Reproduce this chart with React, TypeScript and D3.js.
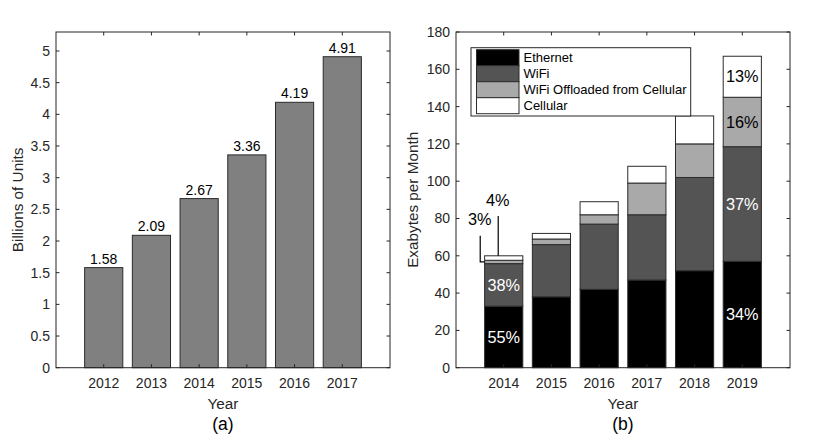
import React from 'react';
import * as d3 from 'd3';

// panel (a): devices
const yearsA = [2012, 2013, 2014, 2015, 2016, 2017];
const unitsA = [1.58, 2.09, 2.67, 3.36, 4.19, 4.91];
const yTicksA = d3.range(0, 5.01, 0.5);

// panel (b): traffic by access type
const yearsB = [2014, 2015, 2016, 2017, 2018, 2019];
const seriesNames = ['Ethernet', 'WiFi', 'WiFi Offloaded from Cellular', 'Cellular'];
const ethernet = [33, 38, 42, 47, 52, 57];
const wifi = [22.8, 28, 35, 35, 50, 61.5];
const offload = [1.8, 3, 5, 17, 18, 26.5];
const cellular = [2.4, 3, 7, 9, 15, 22];
const seriesColors = ['#000000', '#545454', '#a9a9a9', '#ffffff'];
const yTicksB = d3.range(0, 181, 20);
// percentage labels: [year index, series index, text]
const pctLabels: [number, number, string][] = [
  [0, 0, '55%'],
  [0, 1, '38%'],
  [5, 0, '34%'],
  [5, 1, '37%'],
  [5, 2, '16%'],
  [5, 3, '13%'],
];

const FONT = '"Liberation Sans", Arial, Helvetica, sans-serif';
const AX = '#262626';
const EDGE = '#2b2b2b';

const top = 32;
const bottom = 367.7;
const tickLen = 3.5;

function Frame({ left, right, x, y, xTicks, yTicks, yFmt, xLabel, yLabel, panel, yLabelX }: any) {
  return (
    <g>
      <rect x={left} y={top} width={right - left} height={bottom - top} fill="none" stroke={AX} strokeWidth={1} />
      {yTicks.map((t: number) => (
        <g key={'y' + t}>
          <line x1={left} x2={left + tickLen} y1={y(t)} y2={y(t)} stroke={AX} />
          <line x1={right} x2={right - tickLen} y1={y(t)} y2={y(t)} stroke={AX} />
          <text x={left - 6} y={y(t)} dy="0.35em" textAnchor="end" fontSize={14} fill={AX}>
            {yFmt(t)}
          </text>
        </g>
      ))}
      {xTicks.map((t: number) => (
        <g key={'x' + t}>
          <line x1={x(t)} x2={x(t)} y1={bottom} y2={bottom - tickLen} stroke={AX} />
          <line x1={x(t)} x2={x(t)} y1={top} y2={top + tickLen} stroke={AX} />
          <text x={x(t)} y={387.5} textAnchor="middle" fontSize={14} fill={AX}>
            {t}
          </text>
        </g>
      ))}
      <text x={(left + right) / 2} y={409} textAnchor="middle" fontSize={15.3} fill={AX}>
        {xLabel}
      </text>
      <text
        transform={`translate(${yLabelX},${(top + bottom) / 2}) rotate(-90)`}
        textAnchor="middle"
        fontSize={15.3}
        fill={AX}
      >
        {yLabel}
      </text>
      <text x={(left + right) / 2} y={430} textAnchor="middle" fontSize={17.5} fill="#000">
        {panel}
      </text>
    </g>
  );
}

function PanelA() {
  const left = 56;
  const right = 390;
  const x = d3.scaleLinear().domain([2011, 2018]).range([left, right]);
  const y = d3.scaleLinear().domain([0, 5.3]).range([bottom, top]);
  const bw = (x(2012) - x(2011)) * 0.8;
  return (
    <g>
      {yearsA.map((yr, i) => (
        <g key={yr}>
          <rect
            x={x(yr) - bw / 2}
            y={y(unitsA[i])}
            width={bw}
            height={y(0) - y(unitsA[i])}
            fill="#808080"
            stroke={EDGE}
            strokeWidth={1}
          />
          <text x={x(yr)} y={y(unitsA[i]) - 4} textAnchor="middle" fontSize={14} fill="#000">
            {unitsA[i].toFixed(2)}
          </text>
        </g>
      ))}
      <Frame
        left={left}
        right={right}
        x={x}
        y={y}
        xTicks={yearsA}
        yTicks={yTicksA}
        yFmt={(t: number) => d3.format('~g')(t)}
        xLabel="Year"
        yLabel="Billions of Units"
        panel="(a)"
        yLabelX={23}
      />
    </g>
  );
}

function PanelB() {
  const left = 456;
  const right = 790;
  const x = d3.scaleLinear().domain([2013, 2020]).range([left, right]);
  const y = d3.scaleLinear().domain([0, 180]).range([bottom, top]);
  const bw = (x(2014) - x(2013)) * 0.8;
  const rows = yearsB.map((yr, i) => ({
    year: yr,
    Ethernet: ethernet[i],
    WiFi: wifi[i],
    'WiFi Offloaded from Cellular': offload[i],
    Cellular: cellular[i],
  }));
  const stacked = d3.stack<any>().keys(seriesNames)(rows);
  const legX = 471;
  const legY = 47.7;
  const rowH = 16;
  return (
    <g>
      {stacked.map((s, si) => (
        <g key={s.key}>
          {s.map((d, i) => (
            <rect
              key={i}
              x={x(yearsB[i]) - bw / 2}
              y={y(d[1])}
              width={bw}
              height={y(d[0]) - y(d[1])}
              fill={seriesColors[si]}
              stroke={EDGE}
              strokeWidth={1}
            />
          ))}
        </g>
      ))}
      {pctLabels.map(([yi, si, txt]) => {
        const d = stacked[si][yi];
        return (
          <text
            key={yi + '-' + si}
            x={x(yearsB[yi])}
            y={y((d[0] + d[1]) / 2)}
            dy="0.35em"
            textAnchor="middle"
            fontSize={16.3}
            fill={si < 2 ? '#ffffff' : '#000'}
          >
            {txt}
          </text>
        );
      })}
      {/* callouts for the thin 2014 segments */}
      <path
        d={`M${x(2014) - 23.5},${y(70.7)} V${y((stacked[2][0][0] + stacked[2][0][1]) / 2)} H${x(2014) - bw / 2}`}
        fill="none"
        stroke="#000"
        strokeWidth={1.2}
      />
      <path
        d={`M${x(2014) - 5.5},${y(81.4)} V${y(stacked[3][0][1])}`}
        fill="none"
        stroke="#000"
        strokeWidth={1.2}
      />
      <text x={x(2014) - 24} y={y(76.5)} textAnchor="middle" fontSize={16.3} fill="#000">
        3%
      </text>
      <text x={x(2014) - 6} y={y(86.6)} textAnchor="middle" fontSize={16.3} fill="#000">
        4%
      </text>
      <Frame
        left={left}
        right={right}
        x={x}
        y={y}
        xTicks={yearsB}
        yTicks={yTicksB}
        yFmt={(t: number) => String(t)}
        xLabel="Year"
        yLabel="Exabytes per Month"
        panel="(b)"
        yLabelX={418}
      />
      <g>
        <rect x={legX} y={legY} width={219.7} height={68.3} fill="#fff" stroke={AX} strokeWidth={1} />
        {seriesNames.map((name, i) => (
          <g key={name}>
            <rect
              x={legX + 5.5}
              y={legY + 2 + i * rowH}
              width={42.5}
              height={rowH}
              fill={seriesColors[i]}
              stroke={EDGE}
              strokeWidth={1}
            />
            <text x={legX + 52.5} y={legY + 2 + i * rowH + rowH / 2} dy="0.35em" fontSize={13} fill="#000">
              {name}
            </text>
          </g>
        ))}
      </g>
    </g>
  );
}

export default function App() {
  return (
    <svg
      width={830}
      height={444}
      style={{ position: 'absolute', left: 0, top: 0, background: '#fff' }}
      fontFamily={FONT}
    >
      <rect width={830} height={444} fill="#fff" />
      <PanelA />
      <PanelB />
    </svg>
  );
}
